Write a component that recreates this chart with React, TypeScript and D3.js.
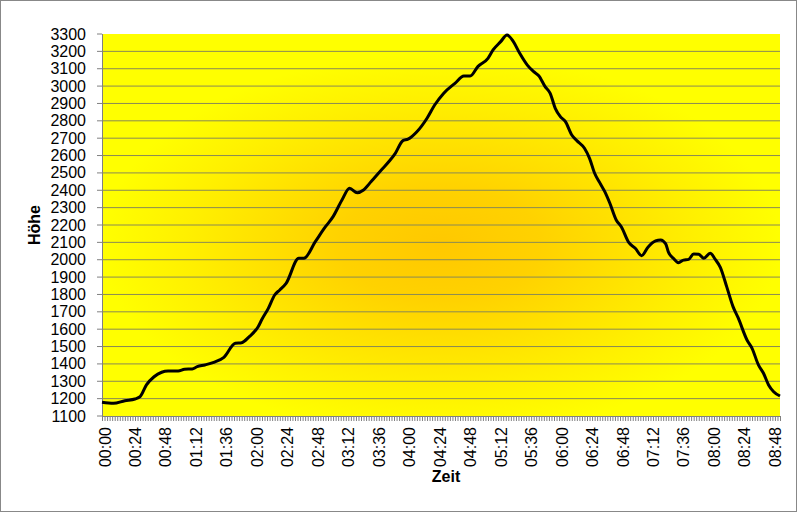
import * as d3 from "d3";

// Höhenprofil: Zeit (Minuten ab Start) gegen Höhe in m
const minutes = [
  0, 9, 18, 26, 30, 35, 41, 47, 52, 60, 65, 71, 75, 81, 88, 96, 105, 110, 116, 123,
  126, 131, 136, 140, 145, 155, 159, 168, 176, 182, 189, 195, 201, 206, 212, 220,
  227, 231, 237, 241, 248, 256, 262, 269, 278, 285, 290, 296, 304, 308, 314, 319,
  324, 329, 335, 340, 344, 349, 353, 357, 361, 365, 370, 374, 380, 384, 388, 392,
  396, 400, 405, 409, 415, 420, 425, 430, 436, 440, 444, 446, 450, 454, 458, 462,
  466, 470, 474, 479, 483, 487, 492, 497, 501, 508, 512, 517, 521, 525, 529, 534,
];
const hoehe = [
  1179, 1173, 1188, 1198, 1211, 1279, 1326, 1352, 1359, 1359, 1369, 1371, 1384, 1394,
  1409, 1438, 1519, 1522, 1557, 1614, 1657, 1720, 1797, 1826, 1864, 2008, 2008, 2104,
  2190, 2248, 2344, 2411, 2386, 2402, 2450, 2517, 2574, 2613, 2686, 2694, 2737, 2815,
  2891, 2958, 3016, 3058, 3058, 3112, 3160, 3208, 3256, 3294, 3256, 3189, 3121, 3083,
  3060, 2997, 2958, 2872, 2824, 2795, 2718, 2686, 2642, 2584, 2498, 2444, 2392, 2325,
  2229, 2190, 2098, 2066, 2023, 2072, 2108, 2114, 2091, 2046, 2008, 1983, 1998, 2002,
  2033, 2031, 2008, 2037, 2002, 1956, 1845, 1730, 1666, 1538, 1490, 1394, 1346, 1279,
  1240, 1215,
];
const yTicks = d3.range(1100, 3301, 100);
const xLabelMinutes = d3.range(0, 529, 24);
const catTicks = d3.range(0, 535, 2);

const fmt = (m: number) =>
  `${String(Math.floor(m / 60)).padStart(2, "0")}:${String(m % 60).padStart(2, "0")}`;

export default function App() {
  const W = 799, H = 513;
  const left = 102, right = 780, top = 34, bottom = 416;
  const x = d3.scaleLinear().domain([0, 534]).range([left, right]);
  const y = d3.scaleLinear().domain([1100, 3300]).range([bottom, top]);
  const pts = minutes.map((m, i) => [m, hoehe[i]] as [number, number]);
  const line = d3.line<[number, number]>().x((d) => x(d[0])).y((d) => y(d[1])).curve(d3.curveMonotoneX);
  const font = "'Liberation Sans', Arial, sans-serif";

  return (
    <svg width={W} height={H} style={{ position: "absolute", left: 0, top: 0 }} fontFamily={font}>
      <defs>
        <radialGradient id="bg" cx="0.5" cy="0.55" r="0.5">
          <stop offset="0" stopColor="#FFC800" />
          <stop offset="0.3" stopColor="#FFD200" />
          <stop offset="0.75" stopColor="#FFF000" />
          <stop offset="1" stopColor="#FFFF00" />
        </radialGradient>
      </defs>
      <rect x={0} y={0} width={W} height={H} fill="#fff" />
      <rect x={0.5} y={0.5} width={796} height={511} fill="none" stroke="#888" />
      <rect x={left} y={top} width={right - left} height={bottom - top} fill="#FFFF00" />
      <rect x={left} y={top} width={right - left} height={bottom - top} fill="url(#bg)" />
      {yTicks.filter((t) => t > 1100 && t < 3300).map((t) => (
        <line key={`g${t}`} x1={left} x2={right} y1={y(t)} y2={y(t)} stroke="#8a8a55" />
      ))}
      <line x1={left + 0.5} x2={left + 0.5} y1={top} y2={bottom} stroke="#808080" />
      <line x1={left} x2={right} y1={bottom + 0.5} y2={bottom + 0.5} stroke="#808080" />
      {yTicks.map((t) => (
        <g key={`y${t}`}>
          <line x1={97} x2={left} y1={y(t)} y2={y(t)} stroke="#808080" />
          <text x={86} y={y(t) + 5.5} textAnchor="end" fontSize={16} fill="#000">{t}</text>
        </g>
      ))}
      {catTicks.map((m) => (
        <line key={`c${m}`} x1={x(m) + 0.5} x2={x(m) + 0.5} y1={bottom} y2={bottom + 5} stroke="#808080" />
      ))}
      {xLabelMinutes.map((m) => (
        <text key={`x${m}`} transform={`translate(${x(m) + 8.5},427) rotate(-90)`} textAnchor="end" fontSize={16} fill="#000">
          {fmt(m)}
        </text>
      ))}
      <path d={line(pts) ?? ""} fill="none" stroke="#000" strokeWidth={3} strokeLinejoin="round" />
      <text transform={`translate(40,225) rotate(-90)`} textAnchor="middle" fontSize={16} fontWeight="bold">Höhe</text>
      <text x={446} y={482} textAnchor="middle" fontSize={16} fontWeight="bold">Zeit</text>
    </svg>
  );
}
